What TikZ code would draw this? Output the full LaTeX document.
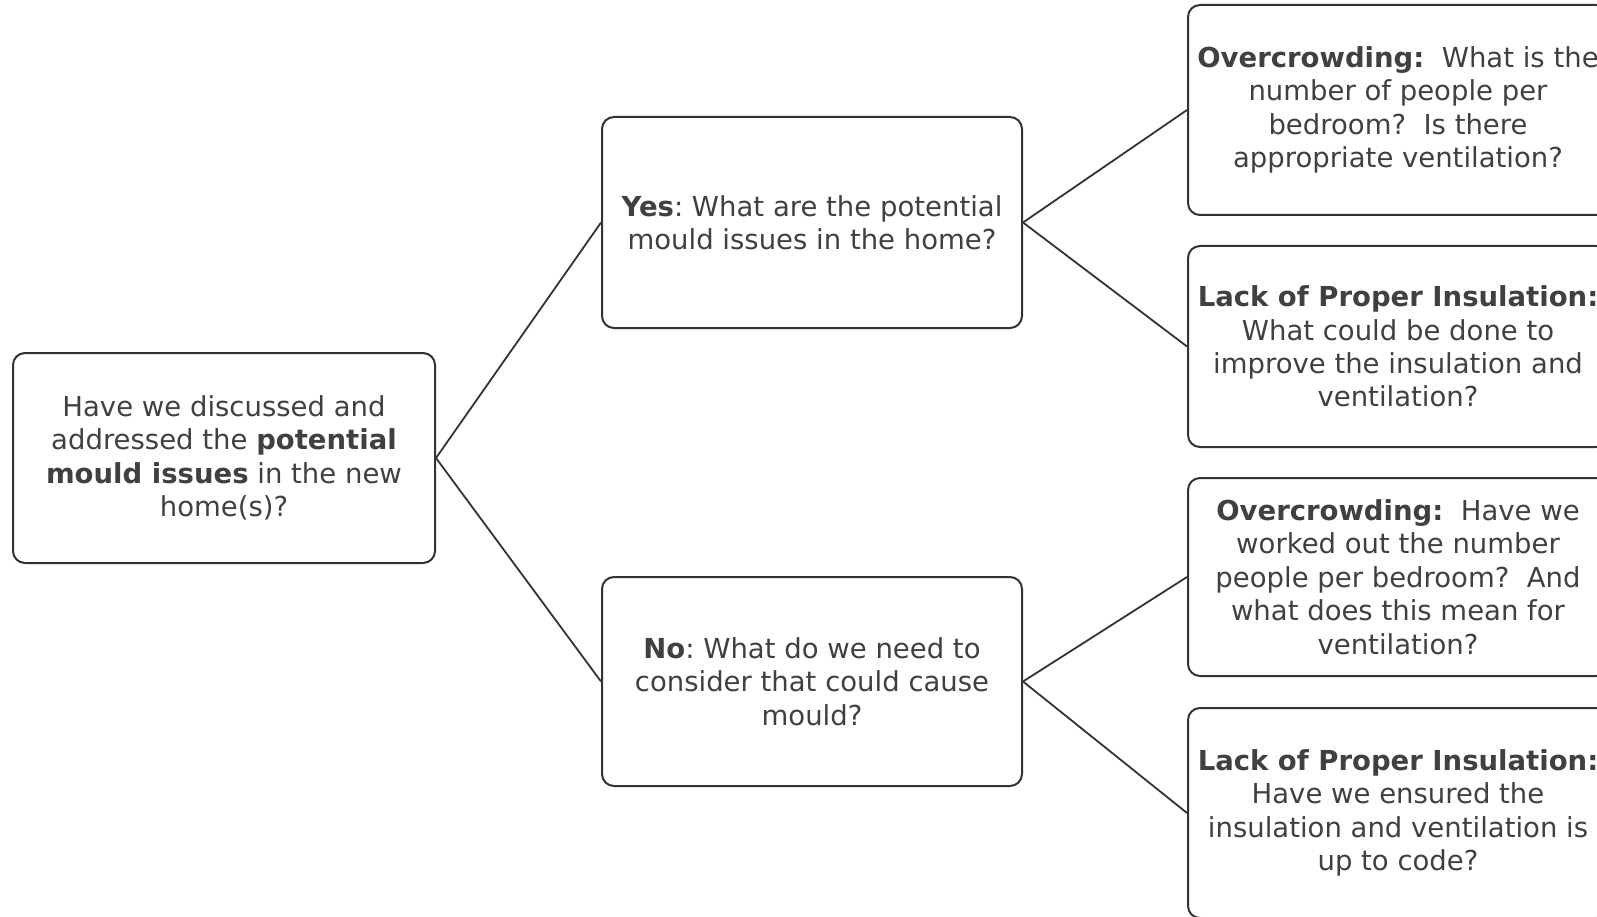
\documentclass[tikz,border=0pt]{standalone}
\usepackage{fontspec}
\setmainfont{DejaVu Sans}
\definecolor{txt}{HTML}{404040}
\definecolor{bd}{HTML}{333333}
\frenchspacing
\begin{document}
\begin{tikzpicture}[x=1pt,y=-1pt,
  box/.style={draw=bd, line width=2pt, rounded corners=12pt, minimum width=420pt,
    text=txt, align=center, font=\fontsize{27.5}{33.4}\selectfont, inner sep=0pt},
  link/.style={draw=bd, line width=1.8pt}]
\useasboundingbox (0,0) rectangle (1597,917);
\clip (0,0) rectangle (1597,917);
\node[box, minimum width=422pt, minimum height=210pt] (root) at (224,458)
  {Have we discussed and\\ addressed the \textbf{potential}\\ \textbf{mould issues} in the new\\ home(s)?};
\node[box, minimum height=211pt] (yes) at (812,222.5)
  {\textbf{Yes}: What are the potential\\ mould issues in the home?};
\node[box, minimum height=209pt] (no) at (812,681.5)
  {\textbf{No}: What do we need to\\ consider that could cause\\ mould?};
\node[box, minimum height=210pt] (r1) at (1398,110)
  {\textbf{Overcrowding:}~~What is the\\ number of people per\\ bedroom?~~Is there\\ appropriate ventilation?};
\node[box, minimum height=201pt] (r2) at (1398,346.5)
  {\textbf{Lack of Proper Insulation:}\\ What could be done to\\ improve the insulation and\\ ventilation?};
\node[box, minimum height=198pt] (r3) at (1398,577)
  {\textbf{Overcrowding:}~~Have we\\ worked out the number\\ people per bedroom?~~And\\ what does this mean for\\ ventilation?};
\node[box, minimum height=210pt] (r4) at (1398,813)
  {\textbf{Lack of Proper Insulation:}\\ Have we ensured the\\ insulation and ventilation is\\ up to code?};
\draw[link] (root.east) -- (yes.west);
\draw[link] (root.east) -- (no.west);
\draw[link] (yes.east) -- (r1.west);
\draw[link] (yes.east) -- (r2.west);
\draw[link] (no.east) -- (r3.west);
\draw[link] (no.east) -- (r4.west);
\end{tikzpicture}
\end{document}
